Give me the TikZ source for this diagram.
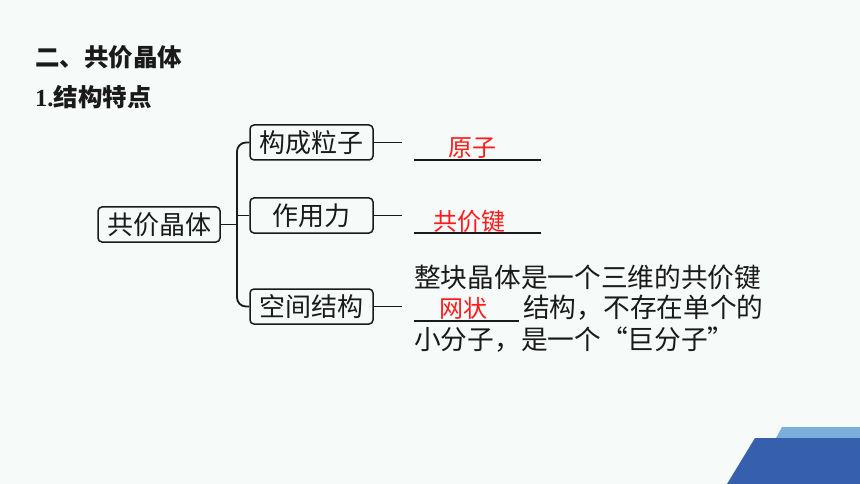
\documentclass[tikz,border=0pt]{standalone}
\usepackage{fontspec}
\newfontfamily\cjk{Noto Sans CJK SC}
\newfontfamily\tms{Liberation Serif}
\definecolor{bg}{HTML}{F6FAF8}
\definecolor{dblue}{HTML}{3660AE}
\definecolor{lblue}{HTML}{7AAEDB}
\definecolor{ink}{HTML}{1A1A1A}
\definecolor{ans}{HTML}{FF1A1A}
\begin{document}
\begin{tikzpicture}[x=1pt,y=-1pt,
  box/.style={draw=ink,line width=1.5pt,rounded corners=4pt,minimum height=35pt,inner sep=0pt,font=\cjk\fontsize{26}{26}\selectfont,text=ink},
  conn/.style={draw=ink,line width=1.8pt},
  body/.style={anchor=west,inner sep=0pt,font=\cjk\fontsize{26.7}{26.7}\selectfont,text=ink},
  red/.style={inner sep=0pt,font=\cjk\fontsize{24}{24}\selectfont,text=ans},
  uline/.style={draw=ink,line width=1.5pt}]
\fill[bg] (0,0) rectangle (860,484);
\useasboundingbox (0,0) rectangle (860,484);
% decoration
\fill[lblue] (782,427) -- (860,427) -- (860,440) -- (775,440) -- cycle;
\fill[dblue] (755,438) -- (860,438) -- (860,484) -- (727,484) -- cycle;
% titles
\node[anchor=west,inner sep=0pt,font=\cjk\bfseries\fontsize{24.5}{24.5}\selectfont,text=ink] (t1) at (35,57) {二、共价晶体};
\node[anchor=west,inner sep=0pt,font=\cjk\bfseries\fontsize{24.5}{24.5}\selectfont,text=ink] (t2) at (35,97) {{\tms\bfseries 1}{\tms .}结构特点};
% boxes
\node[box,minimum width=122pt] (main) at (159,224.5) {共价晶体};
\node[box,minimum width=123pt] (top) at (311.5,142.5) {构成粒子};
\node[box,minimum width=123pt] (mid) at (311.5,215.5) {作用力};
\node[box,minimum width=123pt] (bot) at (311.5,306.5) {空间结构};
\coordinate (j) at (237,224.5);
\draw[conn] (main.east) -- (j);
\draw[conn,rounded corners=9pt] (top.west) -| (j) |- (bot.west);
\draw[conn] (mid.west) -- (mid.west -| j);
\coordinate (e1) at (402,142.5);
\coordinate (e2) at (402,215.5);
\coordinate (e3) at (402,306.5);
\draw[conn] (top.east) -- (e1);
\draw[conn] (mid.east) -- (e2);
\draw[conn] (bot.east) -- (e3);
% answers
\coordinate (u1a) at (414,160); \coordinate (u1b) at (541,160);
\coordinate (u2a) at (414,233); \coordinate (u2b) at (541,233);
\coordinate (u3a) at (414,321); \coordinate (u3b) at (519,321);
\draw[uline] (u1a) -- (u1b);
\draw[uline] (u2a) -- (u2b);
\draw[uline] (u3a) -- (u3b);
\node[red] (a1) at (472,148) {原子};
\node[red] (a2) at (469,221) {共价键};
\node[red] (a3) at (463,308) {网状};
\node[body] (l1) at (414,277) {整块晶体是一个三维的共价键};
\node[body] (l2) at (523,308) {结构，不存在单个的};
\node[body] (l3) at (414,340) {小分子，是一个“巨分子”};
\end{tikzpicture}
\end{document}
